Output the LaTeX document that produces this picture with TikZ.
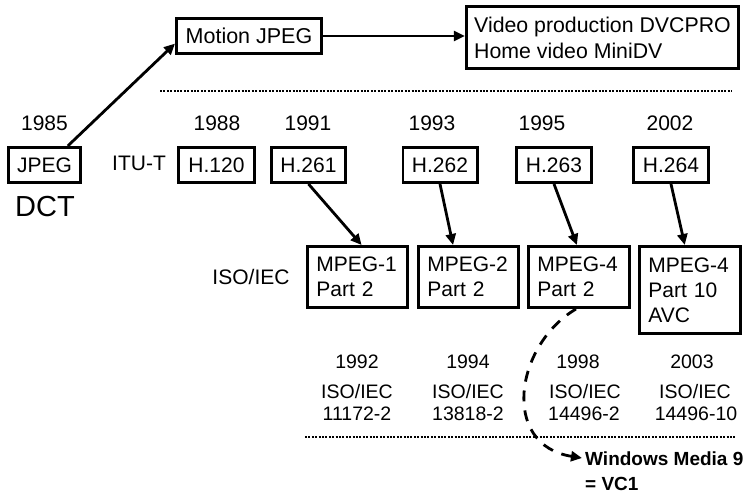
\documentclass[tikz,border=0pt]{standalone}
\usepackage{fontspec}
\setmainfont{Liberation Sans}
\usetikzlibrary{arrows.meta,calc}
\begin{document}
\begin{tikzpicture}[x=1pt,y=-1pt,
 box/.style={draw,line width=2.8pt,inner sep=0pt,minimum height=35.2pt,font=\fontsize{21}{25}\selectfont},
 mbox/.style={draw,line width=2.8pt,inner xsep=9pt,inner ysep=0pt,align=left,font=\fontsize{21}{25}\selectfont},
 lbl/.style={inner sep=0pt,font=\fontsize{21}{25}\selectfont},
 slbl/.style={inner sep=0pt,font=\fontsize{19.5}{23}\selectfont},
 arr/.style={line width=2.8pt,-{Triangle[length=11pt,width=10pt]}},
 dots/.style={line width=2.6pt,dash pattern=on 2pt off 1.4pt}]
\useasboundingbox (0,0) rectangle (748,493);
% top row
\node[box,minimum width=145.2pt,font=\fontsize{21.5}{25}\selectfont] (mj) at (249,36) {Motion JPEG};
\node[mbox,inner xsep=8pt,minimum width=268.2pt,minimum height=62.2pt,font=\fontsize{21.3}{26}\selectfont] (vid) at (602.5,37.5) {Video production DVCPRO\\Home video MiniDV};
% dotted separators
\coordinate (d1a) at (160,91);
\coordinate (d1b) at (732,91);
\draw[dots] (d1a) -- (d1b);
\coordinate (d2a) at (305,437);
\coordinate (d2b) at (735,437);
\draw[dots] (d2a) -- (d2b);
% years
\node[lbl] (y85) at (44.5,123) {1985};
\node[lbl] (y88) at (217,123) {1988};
\node[lbl] (y91) at (308,123) {1991};
\node[lbl] (y93) at (432,123) {1993};
\node[lbl] (y95) at (542,123) {1995};
\node[lbl] (y02) at (670,123) {2002};
% ITU-T row
\node[box,minimum width=72.2pt] (jpeg) at (44.5,165) {JPEG};
\node[inner sep=0pt,font=\fontsize{29}{33}\selectfont] (dct) at (45,207) {DCT};
\node[lbl] (itu) at (139,163) {ITU-T};
\node[box,minimum width=76.2pt] (h120) at (216.5,165) {H.120};
\node[box,minimum width=74.2pt] (h261) at (308.5,165) {H.261};
\node[box,minimum width=74.2pt] (h262) at (440,165) {H.262};
\node[box,minimum width=75.2pt] (h263) at (554,165) {H.263};
\node[box,minimum width=75.2pt] (h264) at (671,165) {H.264};
% ISO/IEC row
\node[lbl] (iso) at (251,277) {ISO/IEC};
\node[mbox,text width=82.2pt,minimum height=61.2pt] (mp1) at (357.5,277) {MPEG-1\\Part 2};
\node[mbox,text width=82.2pt,minimum height=61.2pt] (mp2) at (468.5,277) {MPEG-2\\Part 2};
\node[mbox,text width=83.2pt,minimum height=61.2pt] (mp4) at (579,277) {MPEG-4\\Part 2};
\node[mbox,text width=83.2pt,minimum height=87.2pt] (avc) at (690,290) {MPEG-4\\Part 10\\AVC};
% bottom labels
\node[slbl] (b92) at (357,362) {1992};
\node[slbl] (b94) at (468,362) {1994};
\node[slbl] (b98) at (578,362) {1998};
\node[slbl] (b03) at (692,362) {2003};
\node[slbl] (i1) at (357,392) {ISO/IEC};
\node[slbl] (i2) at (468,392) {ISO/IEC};
\node[slbl] (i3) at (585,392) {ISO/IEC};
\node[slbl] (i4) at (695,392) {ISO/IEC};
\node[slbl] (n1) at (357,414) {11172-2};
\node[slbl] (n2) at (468,414) {13818-2};
\node[slbl] (n3) at (584,414) {14496-2};
\node[slbl] (n4) at (696,414) {14496-10};
\node[anchor=base west,inner sep=0pt,align=left,font=\bfseries\fontsize{19}{25}\selectfont] (wm) at (585,490) {Windows Media 9\\= VC1};
\coordinate (wmtip) at (582,458);
% connectors
\draw[arr] ($(jpeg.north west)!0.81!(jpeg.north east)$) -- ($(mj.south west)!0.3!(mj.north west)$);
\draw[arr] (mj.east) -- (mj.east -| vid.west);
\draw[arr] (h261.south) -- ($(mp1.north west)!0.54!(mp1.north east)$);
\draw[arr] (h262.south) -- ($(mp2.north west)!0.35!(mp2.north east)$);
\draw[arr] (h263.south) -- ($(mp4.north west)!0.48!(mp4.north east)$);
\draw[arr] (h264.south) -- ($(avc.north west)!0.45!(avc.north east)$);
\draw[line width=2.8pt,dash pattern=on 11pt off 9pt,-{Triangle[length=11pt,width=10pt]}]
  ($(mp4.south)+(-3,0)$) .. controls (515,345) and (500,445) .. (wmtip);
\end{tikzpicture}
\end{document}
